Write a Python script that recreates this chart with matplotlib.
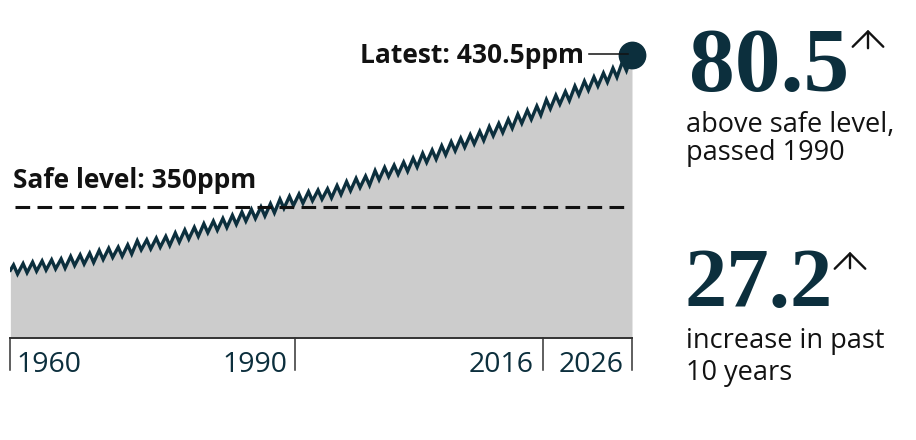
import matplotlib
matplotlib.use("Agg")
import matplotlib.pyplot as plt
import matplotlib.transforms as mtransforms
import numpy as np

# ---------------- data ----------------
start_year = 1960.04
start_value = 316.5
peak_years = list(range(1960, 2026))          # May peaks
peak_values = [319.3, 320.0, 320.8, 321.4, 322.0, 322.5, 323.8, 324.6, 325.5, 327.0,
               328.1, 328.7, 329.9, 332.1, 332.6, 333.5, 334.4, 336.2, 337.8, 339.2,
               341.1, 342.5, 343.9, 345.6, 347.3, 348.7, 350.0, 351.7, 354.1, 355.6,
               356.8, 358.1, 358.9, 359.6, 361.3, 363.4, 365.1, 366.3, 369.2, 370.9,
               372.1, 373.7, 375.8, 378.4, 380.1, 382.4, 384.5, 386.4, 388.2, 390.0,
               392.5, 394.2, 396.4, 399.1, 401.2, 403.4, 406.8, 409.1, 411.1, 414.0,
               416.6, 418.8, 420.9, 423.5, 427.0, 430.5]
trough_years = list(range(1960, 2025))        # Oct troughs
trough_values = [314.5, 315.2, 316.0, 316.6, 317.2, 317.6, 319.0, 319.8, 320.6, 322.2,
                 323.3, 323.9, 325.1, 327.3, 327.8, 328.7, 329.6, 331.4, 333.0, 334.4,
                 336.4, 337.7, 339.1, 340.8, 342.5, 343.9, 345.2, 346.9, 349.3, 350.8,
                 352.0, 353.3, 354.1, 354.8, 356.6, 358.6, 360.3, 361.5, 364.4, 366.1,
                 367.3, 368.9, 371.1, 373.6, 375.3, 377.6, 379.7, 381.6, 383.4, 385.2,
                 387.7, 389.4, 391.7, 394.3, 396.4, 398.6, 402.0, 404.4, 406.3, 409.3,
                 411.8, 414.0, 416.1, 418.7, 422.2]
safe_level = 350
latest = 430.5
tick_years = [1990, 2016]
tick_labels = ["1960", "1990", "2016", "2026"]
big1, sub1 = "80.5", ["above safe level,", "passed 1990"]
big2, sub2 = "27.2", ["increase in past", "10 years"]

# ---------------- build series ----------------
xs, ys = [start_year], [start_value]
for i, py in enumerate(peak_years):
    xs.append(py + 4.5 / 12); ys.append(peak_values[i])
    if i < len(trough_years):
        xs.append(trough_years[i] + 9.5 / 12); ys.append(trough_values[i])
xs = np.array(xs); ys = np.array(ys)

W, H = 916, 440
TEAL = "#0c2f3d"
INK = "#121212"
fig = plt.figure(figsize=(W / 100, H / 100), dpi=100)
fig.patch.set_facecolor("white")

def fx(px): return px / W
def fy(py): return 1 - py / H

ax = fig.add_axes([fx(10), fy(338), 622 / W, 338 / H])
ax.set_xlim(1960.0, xs[-1])
y_bottom, y_top = 280.6, 459.6
ax.set_ylim(y_bottom, y_top)
ax.axis("off")

ax.fill_between(xs, ys, y_bottom, color="#cccccc", lw=0, zorder=1)
ax.plot(xs, ys, color=TEAL, lw=2.4, zorder=3, solid_joinstyle="miter")
ax.hlines(safe_level, 1960.5, 2024.9, colors="#111111", lw=2.2,
          linestyles=(0, (4.8, 2.4)), zorder=4)
ax.plot([xs[-1]], [latest], "o", ms=19, color=TEAL, zorder=6, clip_on=False)

# baseline
ax.axhline(y_bottom, color="#333333", lw=1.4, zorder=5, clip_on=False)

# tick lines
blend = mtransforms.blended_transform_factory(ax.transData, fig.transFigure)
for xv in [1960.0] + tick_years + [xs[-1]]:
    ax.plot([xv, xv], [fy(338), fy(370)], color="#333333", lw=1.1,
            transform=blend, clip_on=False, zorder=5)

SANS = ["Open Sans", "DejaVu Sans"]
SERIF = ["Liberation Serif", "DejaVu Serif"]
tick_fs = 20.5
label_specs = [(1960.0, "left", 6), (1990, "right", -8), (2016, "right", -9), (xs[-1], "right", -8)]
for (xv, ha, dx), lab in zip(label_specs, tick_labels):
    tr = blend + mtransforms.ScaledTranslation(dx / 100, 0, fig.dpi_scale_trans)
    ax.text(xv, fy(372), lab, transform=tr, ha=ha, va="baseline",
            fontsize=tick_fs, color=TEAL, family=SANS)

# annotations
fig.text(fx(13), fy(188), f"Safe level: {safe_level}ppm", fontsize=19, fontweight="bold",
         color=INK, family=SANS, ha="left", va="baseline")
fig.text(fx(584), fy(63), f"Latest: {latest}ppm", fontsize=19, fontweight="bold",
         color=INK, family=SANS, ha="right", va="baseline")
fig.add_artist(plt.Line2D([fx(589), fx(628)], [fy(54), fy(54)], color=INK, lw=1.1))

fig.text(fx(689), fy(90.5), big1, fontsize=66, fontweight="bold", color=TEAL,
         family=SERIF, ha="left", va="baseline")
fig.text(fx(685), fy(307), big2, fontsize=61, fontweight="bold", color=TEAL,
         family=SERIF, ha="left", va="baseline")

for (x0, y0, x1, y1) in [(868, 51, 868, 27), (850, 271, 850, 249)]:
    fig.add_artist(matplotlib.patches.FancyArrowPatch(
        (fx(x0), fy(y0)), (fx(x1), fy(y1)), transform=fig.transFigure,
        arrowstyle="->,head_length=0.55,head_width=0.55", mutation_scale=20,
        color=INK, lw=1.7))

sub_fs = 19.5
fig.text(fx(686), fy(131.5), sub1[0], fontsize=sub_fs, color=INK, family=SANS, va="baseline")
fig.text(fx(686), fy(160), sub1[1], fontsize=sub_fs, color=INK, family=SANS, va="baseline")
fig.text(fx(686), fy(348), sub2[0], fontsize=sub_fs, color=INK, family=SANS, va="baseline")
fig.text(fx(686), fy(380), sub2[1], fontsize=sub_fs, color=INK, family=SANS, va="baseline")

fig.savefig("out.png", dpi=100, facecolor="white")
